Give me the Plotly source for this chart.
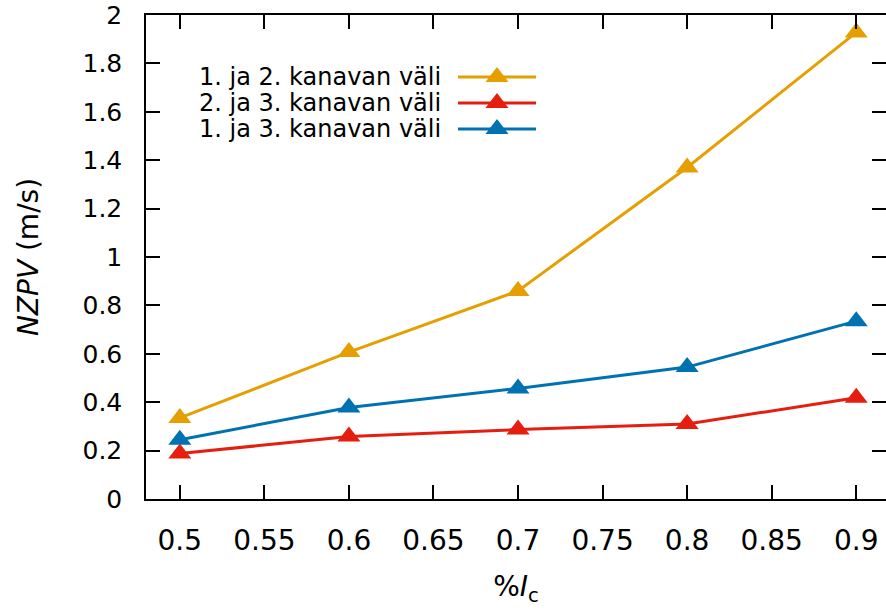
import plotly.graph_objects as go

# ---- data ----
x_vals = [0.5, 0.6, 0.7, 0.8, 0.9]
series_names = ["1. ja 2. kanavan väli", "2. ja 3. kanavan väli", "1. ja 3. kanavan väli"]
s12 = [0.335, 0.607, 0.86, 1.37, 1.928]
s23 = [0.188, 0.258, 0.287, 0.31, 0.418]
s13 = [0.245, 0.378, 0.457, 0.545, 0.735]
series_values = [s12, s23, s13]
colors = ["#E69F00", "#E51E10", "#0072B2"]

FONT = "DejaVu Sans"
W, H = 886, 610
L, R, T, B = 146, 0, 15, 111

fig = go.Figure()
for name, vals, col in zip(series_names, series_values, colors):
    fig.add_trace(go.Scatter(
        x=x_vals, y=vals, name=name, mode="lines+markers",
        line=dict(color=col, width=3),
        marker=dict(symbol="triangle-up", size=20, color=col, line=dict(width=0)),
        showlegend=False, cliponaxis=False,
    ))

# ---- custom gnuplot-style key (text on left, sample on right) ----
key_rows_py = [77, 103, 129]           # pixel rows of key entries
key_text_right = 443
key_line = (458, 536)
pw = W - L - R
ph = H - T - B
def px2paper_x(px):
    return (px - L) / pw
def py2paper_y(py):
    return (H - B - py) / ph

for name, col, py in zip(series_names, colors, key_rows_py):
    yk = py2paper_y(py)
    x0, x1 = px2paper_x(key_line[0]), px2paper_x(key_line[1])
    fig.add_trace(go.Scatter(
        x=[x0, x1], y=[yk, yk], mode="lines", line=dict(color=col, width=3),
        xaxis="x2", yaxis="y2", showlegend=False, hoverinfo="skip"))
    fig.add_trace(go.Scatter(
        x=[(x0 + x1) / 2], y=[yk], mode="markers",
        marker=dict(symbol="triangle-up", size=20, color=col, line=dict(width=0)),
        xaxis="x2", yaxis="y2", showlegend=False, hoverinfo="skip", cliponaxis=False))
    fig.add_annotation(
        x=px2paper_x(key_text_right), y=yk, xref="paper", yref="paper",
        text=name, showarrow=False, xanchor="right", yanchor="middle",
        font=dict(family=FONT, size=24, color="black"))

fig.update_layout(
    width=W, height=H,
    margin=dict(l=L, r=R, t=T, b=B, pad=0),
    paper_bgcolor="white", plot_bgcolor="white",
    showlegend=False,
    font=dict(family=FONT, color="black"),
    xaxis=dict(
        range=[0.48, 0.9176], tick0=0.5, dtick=0.05,
        ticks="inside", ticklen=14, tickwidth=1.5, tickcolor="black",
        showline=True, linecolor="black", linewidth=1.5, mirror="ticks",
        showgrid=False, zeroline=False,
        tickfont=dict(family=FONT, size=28, color="black"),
        ticklabelstandoff=16,
        title=dict(text="%<i>I</i><sub>c</sub>", font=dict(family=FONT, size=28, color="black"), standoff=20),
        automargin=False,
    ),
    yaxis=dict(
        range=[0, 2], tick0=0, dtick=0.2,
        ticks="inside", ticklen=14, tickwidth=1.5, tickcolor="black",
        showline=True, linecolor="black", linewidth=1.5, mirror="ticks",
        showgrid=False, zeroline=False,
        tickfont=dict(family=FONT, size=25, color="black"),
        ticklabelstandoff=17,
        title=dict(text="<i>NZPV</i> (m/s)", font=dict(family=FONT, size=28, color="black"), standoff=36),
        automargin=False,
    ),
    xaxis2=dict(domain=[0, 1], range=[0, 1], overlaying="x", visible=False, fixedrange=True),
    yaxis2=dict(domain=[0, 1], range=[0, 1], overlaying="y", visible=False, fixedrange=True),
)

fig.write_html("out.html")
